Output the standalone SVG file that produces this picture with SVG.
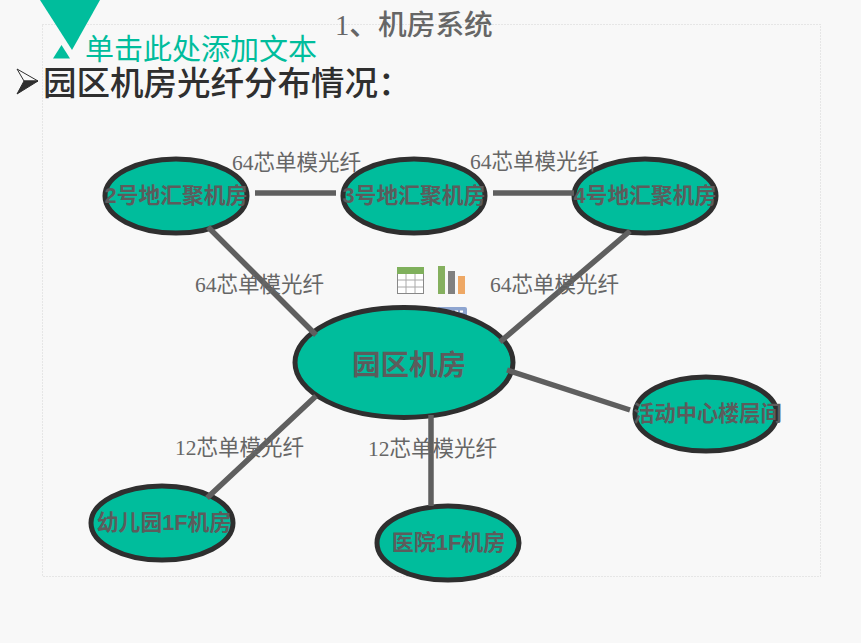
<svg xmlns="http://www.w3.org/2000/svg" width="861" height="643" viewBox="0 0 861 643">
<style>
.n{fill:#00bd9c;stroke:#2f2f2f;stroke-width:5}
.c{stroke:#5f5f5f;stroke-width:5.500;fill:none}
.s{font-family:"Liberation Serif","Noto Sans CJK SC",serif;fill:#666;font-size:21.500px}
.l{font-family:"Liberation Sans","Noto Sans CJK SC",sans-serif;font-weight:bold;fill:#5c5c5c;font-size:21.800px;text-anchor:middle}
</style>
<rect width="861" height="643" fill="#f8f8f8"/>
<rect x="42.500" y="24.500" width="778" height="552" fill="none" stroke="#d4d4d4" stroke-dasharray="1 2"/>
<polygon points="40,0 100,0 72,50" fill="#00bd9c"/>
<polygon points="53,58.500 70,58.500 61.500,45" fill="#00bd9c"/>
<text x="335" y="35" font-family="Liberation Serif,Noto Sans CJK SC,serif" font-size="28.700" font-weight="500" fill="#666">1、机房系统</text>
<text x="85" y="60" font-family="Liberation Sans,Noto Sans CJK SC,sans-serif" font-size="29" fill="#00bd9c">单击此处添加文本</text>
<polygon points="17,69 38,81 24,81" fill="#f8f8f8" stroke="#2f2f2f"/>
<polygon points="17,94 38,81 24,81" fill="#2f2f2f" stroke="#2f2f2f"/>
<text x="43" y="95" font-family="Liberation Serif,Noto Sans CJK SC,serif" font-size="33.500" font-weight="500" fill="#2f2f2f">园区机房光纤分布情况：</text>
<g id="icons">
<rect x="397.500" y="267.500" width="26" height="26" fill="#fff" stroke="#888"/>
<rect x="397" y="267" width="27" height="7" fill="#7fb05c"/>
<path d="M406 274V293M415 274V293M398 280H423M398 287H423" stroke="#aaa" fill="none"/>
<rect x="438" y="266" width="7" height="28" fill="#85b05f"/>
<rect x="448" y="271" width="7" height="23" fill="#808080"/>
<rect x="458" y="276" width="7" height="18" fill="#eea865"/>
<rect x="437" y="307" width="30" height="12" rx="2" fill="#8ea5d0"/>
<path d="M450 311.500H453M455 311.500H458M460 311.500H463" stroke="#fff" stroke-width="2" fill="none"/>
</g>
<g id="n2"><ellipse class="n" cx="176" cy="196" rx="71" ry="37"/><text class="l" x="176" y="203">2号地汇聚机房</text></g>
<g id="n3"><ellipse class="n" cx="414" cy="196" rx="71" ry="37"/><text class="l" x="414" y="203">3号地汇聚机房</text></g>
<g id="n4"><ellipse class="n" cx="645" cy="196" rx="71" ry="37"/><text class="l" x="645" y="203">4号地汇聚机房</text></g>
<g id="center"><ellipse class="n" cx="404" cy="362.500" rx="109" ry="55"/><text class="l" x="409" y="375" style="font-size:28.500px">园区机房</text></g>
<g id="activity"><ellipse class="n" cx="706" cy="414" rx="71" ry="37"/><text class="l" x="707.500" y="421" style="font-size:21.200px">活动中心楼层间</text></g>
<g id="kinder"><ellipse class="n" cx="162" cy="523" rx="71" ry="37"/><text class="l" x="164" y="530">幼儿园1F机房</text></g>
<g id="hospital"><ellipse class="n" cx="448" cy="543" rx="71" ry="37"/><text class="l" x="448.500" y="550" style="font-size:22px">医院1F机房</text></g>
<g id="connectors">
<path class="c" d="M255 193H336M493 193H574M208 227L316 335M630 231L500 342M316 396L207 498M431 415V506M507 370L630 410"/>
</g>
<g id="labels">
<text class="s" x="232" y="170">64芯单模光纤</text>
<text class="s" x="470" y="169">64芯单模光纤</text>
<text class="s" x="195" y="292">64芯单模光纤</text>
<text class="s" x="490" y="292">64芯单模光纤</text>
<text class="s" x="175" y="455">12芯单模光纤</text>
<text class="s" x="368" y="456">12芯单模光纤</text>
</g>
</svg>
